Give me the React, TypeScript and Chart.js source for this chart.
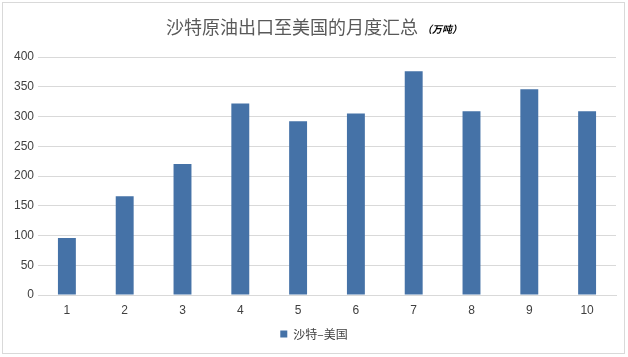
import React, { useEffect, useRef } from "react";
import { Chart, registerables } from "chart.js";

Chart.register(...registerables);

const months = ["1", "2", "3", "4", "5", "6", "7", "8", "9", "10"];
const saudiToUS = [96, 166, 220, 322, 292, 305, 376, 309, 346, 309];
const seriesName = "沙特–美国";
const titleMain = "沙特原油出口至美国的月度汇总";
const titleUnit = "（万吨）";
const yMax = 400;
const yStep = 50;

const BAR = "#4572A7";
const GRID = "#D9D9D9";
const TEXT = "#404040";

export default function App() {
  const ref = useRef<HTMLCanvasElement | null>(null);

  useEffect(() => {
    document.body.style.margin = "0";
    const canvas = ref.current!;
    const overlay = {
      id: "overlay",
      afterDraw(chart: any) {
        const ctx = chart.ctx as CanvasRenderingContext2D;
        ctx.save();
        // border
        ctx.strokeStyle = "#D9D9D9";
        ctx.lineWidth = 1;
        ctx.strokeRect(2.5, 2.5, 622, 351);
        // title
        const mainFont = '18px "Noto Sans CJK SC", sans-serif';
        const unitFont = 'italic bold 10px "Noto Sans CJK SC", sans-serif';
        ctx.font = mainFont;
        const w1 = ctx.measureText(titleMain).width;
        ctx.font = unitFont;
        const w2 = ctx.measureText(titleUnit).width;
        const gap = 4;
        const total = w1 + gap + w2;
        const x0 = chart.width / 2 - total / 2;
        ctx.textBaseline = "alphabetic";
        ctx.textAlign = "left";
        ctx.fillStyle = "#595959";
        ctx.font = mainFont;
        ctx.fillText(titleMain, x0, 34);
        ctx.fillStyle = "#000000";
        ctx.font = unitFont;
        ctx.fillText(titleUnit, x0 + w1 + gap, 33);
        // legend
        ctx.font = '12px "Noto Sans CJK SC", sans-serif';
        const tw = ctx.measureText(seriesName).width;
        const box = 7;
        const lg = 6;
        const lw = box + lg + tw;
        const lx = chart.width / 2 - lw / 2;
        const ly = 334;
        ctx.fillStyle = BAR;
        ctx.fillRect(lx, ly - box / 2, box, box);
        ctx.fillStyle = TEXT;
        ctx.textBaseline = "middle";
        ctx.fillText(seriesName, lx + box + lg, ly);
        ctx.restore();
      },
    };

    const chart = new Chart(canvas, {
      type: "bar",
      data: {
        labels: months,
        datasets: [
          {
            label: seriesName,
            data: saudiToUS,
            backgroundColor: BAR,
            borderWidth: 0,
            categoryPercentage: 1,
            barPercentage: 0.31,
          },
        ],
      },
      options: {
        responsive: false,
        animation: false,
        devicePixelRatio: 1,
        layout: { padding: { left: 0, right: 12, top: 57, bottom: 32 } },
        plugins: {
          legend: { display: false },
          title: { display: false },
          tooltip: { enabled: false },
        },
        scales: {
          x: {
            grid: { display: false, drawTicks: false },
            border: { display: true, color: GRID, width: 1 },
            ticks: {
              color: TEXT,
              font: { family: '"Liberation Sans", Arial, sans-serif', size: 12 },
              padding: 8,
            },
            afterFit(scale: any) {
              scale.height = 30;
            },
          },
          y: {
            min: 0,
            max: yMax,
            ticks: {
              stepSize: yStep,
              color: TEXT,
              font: { family: '"Liberation Sans", Arial, sans-serif', size: 12 },
              padding: 4,
            },
            grid: { color: GRID, drawTicks: false, lineWidth: 1 },
            border: { display: false },
            afterFit(scale: any) {
              scale.width = 38;
            },
          },
        },
      },
      plugins: [overlay],
    });
    return () => chart.destroy();
  }, []);

  return (
    <div style={{ position: "absolute", left: 0, top: 0, width: 628, height: 357, background: "#fff" }}>
      <canvas ref={ref} width={628} height={357} style={{ display: "block", width: 628, height: 357 }} />
    </div>
  );
}
